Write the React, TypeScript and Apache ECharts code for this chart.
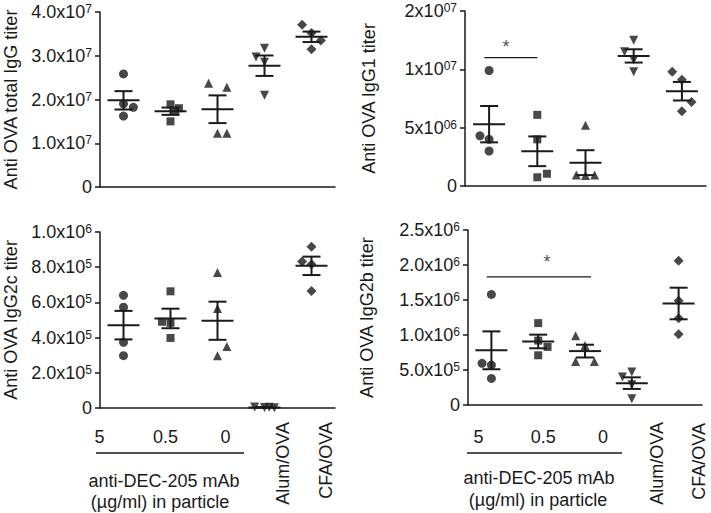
import { useEffect, useRef } from 'react';
import * as echarts from 'echarts';

// ---------- data ----------
const groupNames = ['5', '0.5', '0', 'Alum/OVA', 'CFA/OVA'];
const rotatedNames = ['Alum/OVA', 'CFA/OVA'];
const groupCaption = ['anti-DEC-205 mAb', '(µg/ml) in particle'];

const yNames = ['Anti OVA total IgG titer', 'Anti OVA IgG1 titer', 'Anti OVA IgG2c titer', 'Anti OVA IgG2b titer'];

const totalIgGTicks = ['0', '1.0x10^7', '2.0x10^7', '3.0x10^7', '4.0x10^7'];
const igG1Ticks = ['0', '5x10^06', '1x10^07', '2x10^07'];
const igG2cTicks = ['0', '2.0x10^5', '4.0x10^5', '6.0x10^5', '8.0x10^5', '1.0x10^6'];
const igG2bTicks = ['0', '5.0x10^5', '1.0x10^6', '1.5x10^6', '2.0x10^6', '2.5x10^6'];

const totalIgG = [
  [2.585e7, 1.9e7, 1.82e7, 1.62e7],
  [1.89e7, 1.8e7, 1.74e7, 1.5e7],
  [2.37e7, 2.28e7, 1.23e7, 1.23e7],
  [3.17e7, 2.97e7, 2.85e7, 2.1e7],
  [3.71e7, 3.52e7, 3.35e7, 3.15e7],
];
const igG1 = [
  [9.9e6, 4.3e6, 4.0e6, 3.0e6],
  [6.1e6, 4.0e6, 1.05e6, 0.75e6],
  [5.2e6, 0.95e6, 0.9e6, 0.95e6],
  [12.5e6, 11.5e6, 10.8e6, 9.8e6],
  [9.8e6, 9.1e6, 7.2e6, 6.4e6],
];
const igG2c = [
  [6.4e5, 5.73e5, 3.73e5, 2.97e5],
  [6.63e5, 4.9e5, 4.84e5, 3.98e5],
  [7.7e5, 5.66e5, 3.5e5, 2.97e5],
  [5000, 3000, 4000, 2000],
  [9.16e5, 8.33e5, 8.17e5, 6.65e5],
];
const igG2b = [
  [15.8e5, 5.95e5, 5.7e5, 3.8e5],
  [11.7e5, 9.2e5, 8.3e5, 7.1e5],
  [9.9e5, 8.5e5, 6.2e5, 6.2e5],
  [4.7e5, 4.0e5, 2.9e5, 0.9e5],
  [20.6e5, 14.9e5, 12.4e5, 10.1e5],
];

// horizontal jitter of dots (category units)
const totalIgGJitter = [[0, 0, 0.21, 0], [0, 0.18, 0.1, 0], [-0.19, 0.2, 0, 0.2], [0, -0.18, 0, 0], [-0.2, 0, 0.2, 0]];
const igG1Jitter = [[0, -0.19, 0, 0], [0, 0, 0.2, 0], [0, -0.19, 0, 0.19], [0, -0.19, 0, 0], [-0.2, 0, 0.2, 0]];
const igG2cJitter = [[0, 0, 0, 0], [0, -0.18, 0, 0], [0, 0, 0.2, 0], [-0.21, 0, 0.1, 0.21], [0, -0.2, 0, 0]];
const igG2bJitter = [[0, -0.2, 0, 0], [0, 0, 0.2, 0], [-0.2, 0, -0.2, 0.2], [0, -0.2, 0, 0], [0, 0, 0, 0]];

// significance bars: [from, to, y, starX]
const igG1Sig = [0.9, 2.0, 1.1e7, 1.35];
const igG2bSig = [0.9, 3.13, 18.3e5, 2.19];

// ---------- style ----------
const FONT = '"Liberation Sans", Arial, sans-serif';
const INK = '#1a1a1a';
const FS = 18;
const symbols = ['circle', 'rect', 'triangle', 'triangle', 'diamond'];
const symbolRot = [0, 0, 0, 180, 0];
const symbolSz = [9, 8, 9, 9, 10];

function meanSem(v: number[]) {
  const n = v.length;
  const m = v.reduce((a, b) => a + b, 0) / n;
  const sd = Math.sqrt(v.reduce((a, b) => a + (b - m) * (b - m), 0) / (n - 1));
  return [m, sd / Math.sqrt(n)];
}

function yFormatter(ticks: string[], interval: number) {
  return (v: number) => {
    const s = ticks[Math.round(v / interval)] ?? '';
    const [b, e] = s.split('^');
    return e ? `{b|${b}}{s|${e}}` : `{b|${b}}`;
  };
}

const panels = [
  { vals: totalIgG, jit: totalIgGJitter, ticks: totalIgGTicks, max: 4e7, interval: 1e7, grid: { left: 100, top: 12, width: 235, height: 175 }, nameGap: 80, sig: null as number[] | null, bottom: false },
  { vals: igG1, jit: igG1Jitter, ticks: igG1Ticks, max: 1.5e7, interval: 5e6, grid: { left: 465, top: 11, width: 241, height: 175 }, nameGap: 87, sig: igG1Sig, bottom: false },
  { vals: igG2c, jit: igG2cJitter, ticks: igG2cTicks, max: 1e6, interval: 2e5, grid: { left: 100, top: 232, width: 235, height: 176 }, nameGap: 80, sig: null, bottom: true },
  { vals: igG2b, jit: igG2bJitter, ticks: igG2bTicks, max: 2.5e6, interval: 5e5, grid: { left: 468, top: 230, width: 234, height: 175 }, nameGap: 92, sig: igG2bSig, bottom: true },
];

const labelPads = [
  null,
  null,
  { d0: [0, 48, 0, 0], d1: [0, 10, 0, 0], d2: [0, 0, 0, 16] },
  { d0: [0, 26, 0, 0], d1: [0, 0, 0, 10], d2: [0, 0, 0, 36] },
];

export default function App() {
  const ref = useRef<HTMLDivElement>(null);
  useEffect(() => {
    if (!ref.current) return;
    const chart = echarts.init(ref.current, null, { renderer: 'svg' });

    const grid: any[] = [];
    const xAxis: any[] = [];
    const yAxis: any[] = [];
    const series: any[] = [];

    panels.forEach((p, i) => {
      grid.push({ ...p.grid, containLabel: false });
      xAxis.push({ type: 'value', gridIndex: i, position: 'top', min: 0.5, max: 5.5, show: false });
      const pads = labelPads[i];
      const rich: any = {};
      if (pads) {
        Object.keys(pads).forEach((k) => {
          rich[k] = { padding: (pads as any)[k], fontSize: FS, fontFamily: FONT, color: INK };
        });
      }
      xAxis.push({
        type: 'category',
        gridIndex: i,
        position: 'bottom',
        data: groupNames,
        boundaryGap: true,
        axisLine: { lineStyle: { color: INK, width: 1.5 } },
        axisTick: { alignWithLabel: true, length: 5, lineStyle: { color: INK, width: 1.5 } },
        axisLabel: p.bottom
          ? {
              show: true,
              interval: 0,
              margin: i === 2 ? 20 : 23,
              formatter: (v: string, idx: number) => (idx < 3 ? `{d${idx}|${v}}` : ''),
              rich,
            }
          : { show: false },
      });
      yAxis.push({
        type: 'value',
        gridIndex: i,
        position: 'left',
        min: 0,
        max: p.max,
        interval: p.interval,
        name: yNames[i],
        nameLocation: 'middle',
        nameGap: p.nameGap,
        nameTextStyle: { fontSize: FS, fontFamily: FONT, color: INK },
        axisLine: { show: true, lineStyle: { color: INK, width: 1.5 } },
        axisTick: { show: true, length: 5, lineStyle: { color: INK, width: 1.5 } },
        splitLine: { show: false },
        axisLabel: {
          margin: 8,
          formatter: yFormatter(p.ticks, p.interval),
          rich: {
            b: { fontSize: FS, fontFamily: FONT, color: INK },
            s: { fontSize: 12, fontFamily: FONT, color: INK, verticalAlign: 'top' },
          },
        },
      });

      p.vals.forEach((g, gi) => {
        series.push({
          type: 'scatter',
          xAxisIndex: 2 * i,
          yAxisIndex: i,
          symbol: symbols[gi],
          symbolRotate: symbolRot[gi],
          symbolSize: symbolSz[gi],
          itemStyle: { color: INK },
          data: g.map((v, k) => [gi + 1 + p.jit[gi][k], v]),
          z: 3,
        });
      });

      series.push({
        type: 'custom',
        xAxisIndex: 2 * i,
        yAxisIndex: i,
        encode: { x: 0, y: 1 },
        data: p.vals.map((g, gi) => [gi + 1, ...meanSem(g)]),
        renderItem: (_params: any, api: any) => {
          const x = api.value(0);
          const m = api.value(1);
          const s = api.value(2);
          const c = api.coord([x, m]);
          const t = api.coord([x, m + s]);
          const b = api.coord([x, m - s]);
          const st = { stroke: INK, lineWidth: 2 };
          return {
            type: 'group',
            children: [
              { type: 'line', shape: { x1: c[0] - 16, y1: c[1], x2: c[0] + 16, y2: c[1] }, style: st },
              { type: 'line', shape: { x1: c[0] - 9, y1: t[1], x2: c[0] + 9, y2: t[1] }, style: st },
              { type: 'line', shape: { x1: c[0] - 9, y1: b[1], x2: c[0] + 9, y2: b[1] }, style: st },
              { type: 'line', shape: { x1: c[0], y1: t[1], x2: c[0], y2: b[1] }, style: st },
            ],
          };
        },
        z: 4,
      });

      if (p.sig) {
        const [x0, x1, y, sx] = p.sig;
        series.push({
          type: 'line',
          xAxisIndex: 2 * i,
          yAxisIndex: i,
          symbol: 'none',
          lineStyle: { color: INK, width: 1.2 },
          data: [[x0, y], [x1, y]],
        });
        series.push({
          type: 'scatter',
          xAxisIndex: 2 * i,
          yAxisIndex: i,
          symbolSize: 0,
          data: [[sx, y]],
          label: { show: true, position: 'top', distance: i === 3 ? 6 : 2, formatter: '*', fontSize: FS, fontFamily: FONT, color: INK },
        });
      }
    });

    const graphic: any[] = [];
    const txt = (text: string, x: number, y: number, extra: any = {}) => ({
      type: 'text',
      x,
      y,
      style: { text, fontSize: FS, fontFamily: FONT, fill: INK, align: 'center', verticalAlign: 'middle', ...extra },
    });
    // bottom-left captions
    graphic.push({ type: 'line', shape: { x1: 96, y1: 453, x2: 244, y2: 453 }, style: { stroke: INK, lineWidth: 1.5 } });
    graphic.push(txt(groupCaption[0], 164, 481));
    graphic.push(txt(groupCaption[1], 160, 502));
    graphic.push({ ...txt(rotatedNames[0], 283, 422, { align: 'right' }), rotation: Math.PI / 2 });
    graphic.push({ ...txt(rotatedNames[1], 326, 422, { align: 'right' }), rotation: Math.PI / 2 });
    // bottom-right captions
    graphic.push({ type: 'line', shape: { x1: 467, y1: 453, x2: 622, y2: 453 }, style: { stroke: INK, lineWidth: 1.5 } });
    graphic.push(txt(groupCaption[0], 539, 478));
    graphic.push(txt(groupCaption[1], 538, 500));
    graphic.push({ ...txt(rotatedNames[0], 657, 422, { align: 'right' }), rotation: Math.PI / 2 });
    graphic.push({ ...txt(rotatedNames[1], 699, 423, { align: 'right' }), rotation: Math.PI / 2 });

    chart.setOption({
      animation: false,
      backgroundColor: '#ffffff',
      textStyle: { fontFamily: FONT },
      grid,
      xAxis,
      yAxis,
      series,
      graphic,
    });
    return () => chart.dispose();
  }, []);
  return <div ref={ref} style={{ position: 'absolute', left: 0, top: 0, width: 711, height: 513 }} />;
}
